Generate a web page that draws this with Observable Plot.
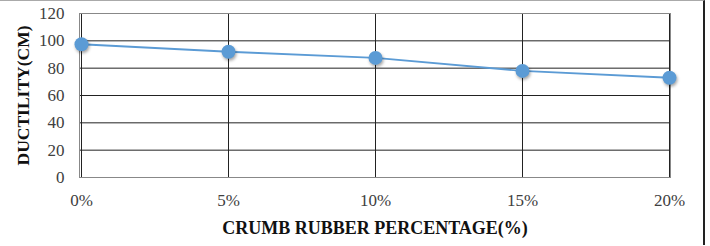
<!DOCTYPE html>
<html><head><meta charset="utf-8">
<script src="https://cdn.jsdelivr.net/npm/d3@7"></script>
<script src="https://cdn.jsdelivr.net/npm/@observablehq/plot@0.6"></script>
<style>
html,body{margin:0;padding:0;background:#fff;}
#wrap{position:relative;width:710px;height:246px;overflow:hidden;}
#bord{position:absolute;left:0;top:0;width:703px;height:244px;border-top:1px solid #aaa;border-right:2px solid #222;pointer-events:none;}
.dots circle{filter:drop-shadow(1px 2px 1.5px rgba(0,0,0,0.35));}
</style>
</head><body>
<div id="wrap"><div id="bord"></div></div>
<script>
const categories = ["0%", "5%", "10%", "15%", "20%"];
const ductility = [97.5, 92, 87.5, 78, 73];
const yTicks = [0, 20, 40, 60, 80, 100, 120];
const xTitle = "CRUMB RUBBER PERCENTAGE(%)";
const yTitle = "DUCTILITY(CM)";

const data = categories.map((c, i) => ({cat: c, v: ductility[i]}));
const blue = "#5B9BD5";
const font = "'Liberation Serif', 'Times New Roman', serif";

const chart = Plot.plot({
  width: 710,
  height: 246,
  marginLeft: 79,
  marginRight: 40,
  marginTop: 13,
  marginBottom: 69,
  style: {fontFamily: font, background: "transparent"},
  x: {type: "point", domain: categories, padding: 0},
  y: {domain: [0, 120]},
  marks: [
    Plot.ruleY(yTicks, {y: d => d, stroke: "#222", strokeWidth: 1}),
    Plot.ruleX(categories, {x: d => d, stroke: "#222", strokeWidth: 1}),
    Plot.frame({stroke: "#888", strokeWidth: 1}),
    Plot.axisY(yTicks, {tickSize: 0, tickPadding: 15, fontSize: 17, fill: "#404040", label: null}),
    Plot.axisX(categories, {tickSize: 0, tickPadding: 16, fontSize: 17, fill: "#404040", label: null}),
    Plot.line(data, {x: "cat", y: "v", stroke: blue, strokeWidth: 1.8}),
    Plot.dot(data, {x: "cat", y: "v", r: 7, fill: blue, stroke: "none", className: "dots"}),
    Plot.text([xTitle], {text: d => d, frameAnchor: "bottom", dy: 56, fontSize: 18, fontWeight: "bold", fill: "#111"}),
    Plot.text([yTitle], {text: d => d, frameAnchor: "left", textAnchor: "middle", dx: -56, rotate: -90, fontSize: 17.5, fontWeight: "bold", fill: "#111"})
  ]
});
document.getElementById("wrap").prepend(chart);
</script>
</body></html>
